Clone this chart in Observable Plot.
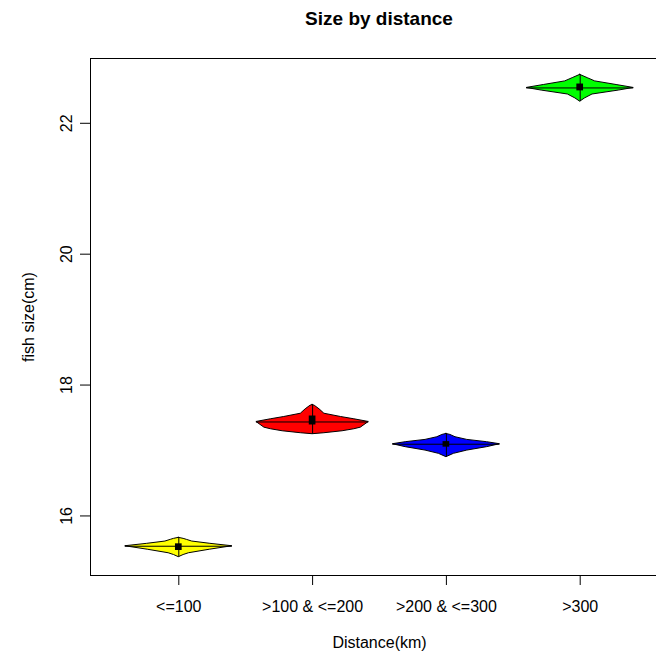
<!DOCTYPE html>
<html>
<head>
<meta charset="utf-8">
<script src="https://cdn.jsdelivr.net/npm/d3@7"></script>
<script src="https://cdn.jsdelivr.net/npm/@observablehq/plot@0.6"></script>
<style>
  body { margin: 0; background: #fff; }
  #wrap { position: relative; width: 656px; height: 657px; overflow: hidden; background: #fff;
          font-family: "Liberation Sans", Arial, sans-serif; }
  #title { position: absolute; left: 0; top: 9px; width: 758px; text-align: center;
           font-size: 19px; line-height: 19px; font-weight: bold; color: #000; }
  #chart { position: absolute; left: 0; top: 40px; width: 680px; height: 617px; }
  #chart svg { max-width: none !important; }
</style>
</head>
<body>
<div id="wrap">
  <div id="title">Size by distance</div>
  <div id="chart"></div>
</div>
<script>
// ---- data ----
const categories = ["<=100", ">100 & <=200", ">200 & <=300", ">300"];
const fills = ["#ffff00", "#ff0000", "#0000ff", "#00ff00"];
const medians = [15.537, 17.436, 17.096, 22.54];
const q1 = [15.472, 17.39, 17.051, 22.495];
const q3 = [15.574, 17.527, 17.136, 22.60];
const mins = [15.370, 17.249, 16.898, 22.33];
const maxs = [15.665, 17.695, 17.253, 22.74];
// violin outlines: [value, relative half-width]
const profileYellow = [[15.665,0],[15.650,0.09],[15.635,0.15],[15.609,0.25],[15.574,0.59],[15.537,1],[15.484,0.58],[15.430,0.19],[15.403,0.09],[15.370,0]];
const profileRed = [[17.695,0],[17.684,0.04],[17.629,0.13],[17.562,0.22],[17.512,0.53],[17.477,0.78],[17.436,1.05],[17.349,0.9],[17.325,0.78],[17.294,0.56],[17.264,0.22],[17.249,0]];
const profileBlue = [[17.253,0],[17.238,0.075],[17.203,0.17],[17.162,0.39],[17.127,0.76],[17.096,1],[17.051,0.76],[16.999,0.39],[16.949,0.14],[16.898,0]];
const profileGreen = [[22.74,0],[22.69,0.14],[22.64,0.28],[22.585,0.68],[22.54,1],[22.50,0.72],[22.44,0.23],[22.38,0.09],[22.33,0]];
const profiles = [profileYellow, profileRed, profileBlue, profileGreen];
const medianWidths = [1, 1.05, 1, 1];
const yTicks = [16, 18, 20, 22];

// ---- build tables ----
const W = 0.4;      // max half-width of a violin, in category units
const BOX = 0.025;  // half-width of the quartile box
const groups = categories.map((c, i) => ({
  g: i + 1, name: c, fill: fills[i], med: medians[i], q1: q1[i], q3: q3[i],
  lo: mins[i], hi: maxs[i], mw: medianWidths[i]
}));
const outline = profiles.flatMap((p, i) => p.map(([v, w]) => ({g: i + 1, v, w, fill: fills[i]})));

const FS = 16;
const chart = Plot.plot({
  width: 680, height: 617,
  marginLeft: 90, marginRight: 12, marginTop: 18, marginBottom: 82,
  style: {fontFamily: '"Liberation Sans", Arial, sans-serif', fontSize: FS + "px", color: "#000", background: "#fff", maxWidth: "none"},
  x: {type: "linear", domain: [0.34, 4.66], axis: null},
  y: {type: "linear", domain: [15.09, 22.99], axis: null},
  color: {type: "identity"},
  marks: [
    Plot.areaX(outline, {y: "v", x1: d => d.g - W * d.w, x2: d => d.g + W * d.w, z: "g",
      fill: "fill", stroke: "black", strokeWidth: 1, curve: "linear"}),
    Plot.ruleY(groups, {y: "med", x1: d => d.g - W * d.mw, x2: d => d.g + W * d.mw, stroke: "black", strokeWidth: 1}),
    Plot.ruleX(groups, {x: "g", y1: "lo", y2: "hi", stroke: "black", strokeWidth: 1}),
    Plot.rect(groups, {x1: d => d.g - BOX, x2: d => d.g + BOX, y1: "q1", y2: "q3", fill: "black"}),
    Plot.frame({stroke: "black", strokeWidth: 1}),
    Plot.axisX({ticks: groups.map(d => d.g), tickFormat: i => categories[i - 1], tickSize: 10,
      tickPadding: 15, fontSize: FS, label: null, stroke: "black"}),
    Plot.axisY({ticks: yTicks, tickFormat: () => "", tickSize: 10, label: null, stroke: "black"}),
    Plot.text(yTicks, {y: d => d, text: d => String(d), frameAnchor: "left", dx: -19, rotate: -90,
      textAnchor: "middle", lineAnchor: "bottom", fontSize: FS, fill: "black"}),
    Plot.text(["fish size(cm)"], {frameAnchor: "left", dx: -62, rotate: -90, textAnchor: "middle",
      lineAnchor: "middle", fontSize: FS, fill: "black"}),
    Plot.text(["Distance(km)"], {frameAnchor: "bottom", dy: 67, lineAnchor: "middle", fontSize: FS, fill: "black"})
  ]
});
document.getElementById("chart").appendChild(chart);
</script>
</body>
</html>
